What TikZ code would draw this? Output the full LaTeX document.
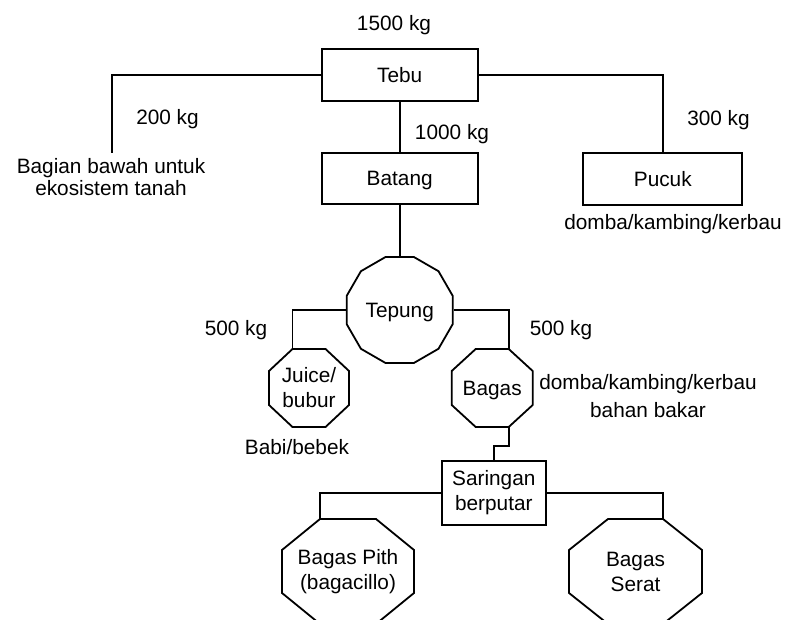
\documentclass[tikz,border=0pt]{standalone}
\usepackage{fontspec}
\setmainfont{Liberation Sans}
\usetikzlibrary{shapes.geometric}
\newcommand\drawoct[3]{%
  \coordinate (#1-tl) at ([xshift=#2]#1.north west);
  \coordinate (#1-tr) at ([xshift=-#2]#1.north east);
  \coordinate (#1-rt) at ([yshift=-#3]#1.north east);
  \coordinate (#1-rb) at ([yshift=#3]#1.south east);
  \coordinate (#1-br) at ([xshift=-#2]#1.south east);
  \coordinate (#1-bl) at ([xshift=#2]#1.south west);
  \coordinate (#1-lb) at ([yshift=#3]#1.south west);
  \coordinate (#1-lt) at ([yshift=-#3]#1.north west);
  \draw[ln] (#1-tl) -- (#1-tr) -- (#1-rt) -- (#1-rb) -- (#1-br) -- (#1-bl) -- (#1-lb) -- (#1-lt) -- cycle;
}
\begin{document}
\begin{tikzpicture}[x=1pt,y=-1pt,
  ln/.style={line width=1.8pt, line join=miter},
  every node/.style={font=\fontsize{20.8}{25}\selectfont},
  box/.style={draw, line width=1.8pt, inner sep=0pt, text height=14.9pt, text depth=0pt},
  boxml/.style={draw, line width=1.8pt, inner sep=0pt, align=center},
  oct/.style={inner sep=0pt, outer sep=0pt, align=center},
  lbl/.style={inner sep=0pt, anchor=base},
  mlbl/.style={inner sep=0pt, align=center}]
\useasboundingbox (0,0) rectangle (785,620);

% boxes
\node[box, minimum width=156pt, minimum height=52pt] (tebu) at (399.7,75) {Tebu};
\node[box, minimum width=156pt, minimum height=51pt] (batang) at (399.7,178.5) {Batang};
\node[box, minimum width=159pt, minimum height=52pt] (pucuk) at (662.8,179) {Pucuk};
\node[regular polygon, regular polygon sides=12, draw, line width=1.8pt,
      minimum size=109.7pt, inner sep=0pt, text height=14.9pt, text depth=0pt] (tepung) at (399.7,310) {Tepung};
\node[oct, minimum width=80pt, minimum height=78pt] (juice) at (309,388) {Juice/\\bubur};
\drawoct{juice}{23.5pt}{22pt}
\node[oct, minimum width=81pt, minimum height=78pt, text height=14.9pt, text depth=0pt] (bagas) at (492.2,388) {Bagas};
\drawoct{bagas}{24pt}{22pt}
\node[boxml, minimum width=104pt, minimum height=64pt] (sar) at (493.8,493) {Saringan\\berputar};
\node[oct, minimum width=132pt, minimum height=105pt] (pith) at (348,571.5) {Bagas Pith\\(bagacillo)};
\drawoct{pith}{38pt}{31pt}
\node[oct, minimum width=133pt, minimum height=105pt] (serat) at (635.5,571.5) {Bagas\\Serat};
\drawoct{serat}{39pt}{31pt}

\coordinate (bawah) at (112,152.7);

% connectors
\draw[ln] (tebu.west) -| (bawah);
\draw[ln] (tebu.south) -- (batang.north);
\draw[ln] (tebu.east) -| (pucuk.north);
\draw[ln] (batang.south) -- (tepung.90);
\draw[ln] (tepung.180) -| (juice-tl);
\draw[ln] (tepung.0) -| (bagas-tr);
\draw[ln] (bagas-br) -- ++(0,19) -| (sar.north);
\draw[ln] (sar.west) -| (pith-tl);
\draw[ln] (sar.east) -| (serat-tr);

% labels
\node[lbl] (l1500) at (394,31) {1500 kg};
\node[lbl] (l200) at (167.5,125) {200 kg};
\node[mlbl, font=\fontsize{20.8}{22.7}\selectfont] (bawahlbl) at (111,177.2) {Bagian bawah untuk\\ekosistem tanah};
\node[lbl] (l1000) at (452,140) {1000 kg};
\node[lbl] (l300) at (718.5,125.7) {300 kg};
\node[lbl] (pucuklbl) at (673,230) {domba/kambing/kerbau};
\node[lbl] (l500a) at (236,336) {500 kg};
\node[lbl] (l500b) at (561,336) {500 kg};
\node[lbl] (babi) at (297,454) {Babi/bebek};
\node[mlbl, font=\fontsize{20.8}{27.5}\selectfont] (bagaslbl) at (648,396.2) {domba/kambing/kerbau\\bahan bakar};
\end{tikzpicture}
\end{document}
